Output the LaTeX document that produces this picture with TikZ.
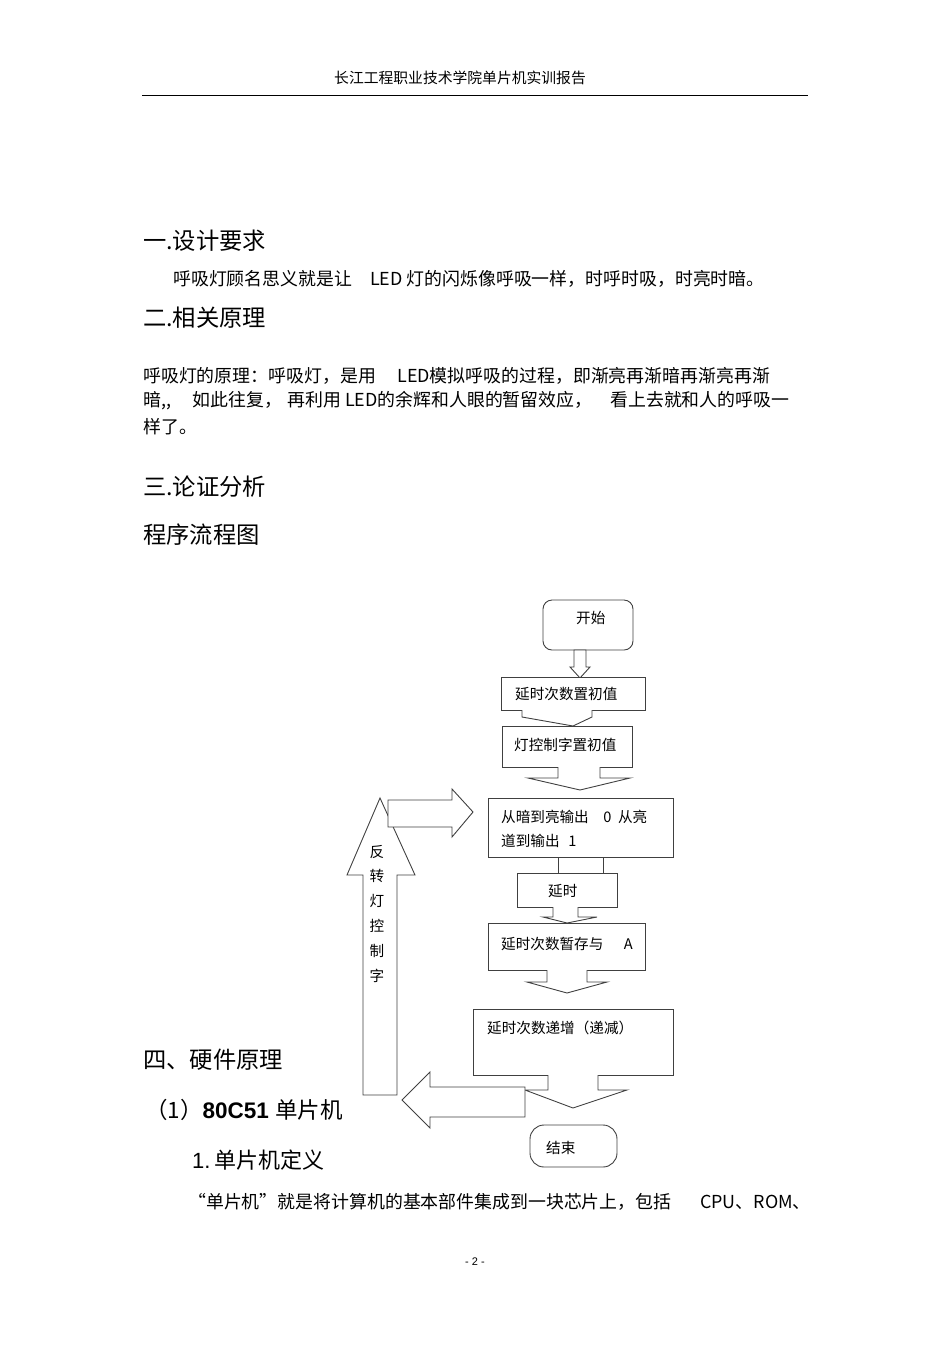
\documentclass[tikz,border=0pt]{standalone}
\usepackage{fontspec}
\setmainfont{Liberation Sans}
\newfontfamily\cjk{Noto Sans CJK SC}
\begin{document}
\begin{tikzpicture}[x=1pt,y=-1pt,
  txt/.style={anchor=west,inner sep=0pt,font=\cjk\fontsize{17.9}{20}\selectfont},
  head/.style={anchor=west,inner sep=0pt,font=\cjk\fontsize{23.3}{26}\selectfont},
  ft/.style={anchor=west,inner sep=0pt,font=\cjk\fontsize{14.6}{17}\selectfont},
  shp/.style={draw=black!75,line width=0.9pt,fill=white,line join=miter}]
\useasboundingbox (0,0) rectangle (950,1345);
% header
\node[inner sep=0pt,font=\cjk\fontsize{14.8}{17}\selectfont] (hdr) at (460,78) {长江工程职业技术学院单片机实训报告};
\draw[line width=0.6pt] (142,95) -- (808,95);
\node[head] (h1) at (143,241) {一.设计要求};
\node[txt] (t1) at (173,279) {呼吸灯顾名思义就是让\hspace{1em}LED 灯的闪烁像呼吸一样，时呼时吸，时亮时暗。};
\node[head] (h2) at (143,318) {二.相关原理};
\node[txt] (p1) at (143,376) {呼吸灯的原理：呼吸灯，是用\hspace{1.2em}LED模拟呼吸的过程，即渐亮再渐暗再渐亮再渐};
\node[txt] (p2) at (143,401) {暗,,\hspace{1.2em}如此往复，\hspace{0.3em}再利用 LED的余辉和人眼的暂留效应，\hspace{1em}看上去就和人的呼吸一};
\node[txt] (p3) at (143,427) {样了。};
\node[head] (h3) at (143,487) {三.论证分析};
\node[head] (h3b) at (143,535) {程序流程图};
\node[head] (h4) at (143,1060) {四、硬件原理};
\node[anchor=west,inner sep=0pt,font=\fontsize{22.5}{26}\selectfont] (h5) at (145,1110) {\cjk（1）\normalfont\bfseries 80C51 \cjk\mdseries 单片机};
\node[anchor=west,inner sep=0pt,font=\fontsize{22}{26}\selectfont] (h6) at (192,1160) {1.\,\cjk 单片机定义};
\node[txt] (t2) at (188,1202) {“单片机”就是将计算机的基本部件集成到一块芯片上，包括\hspace{1.6em}CPU、ROM、};
\node[inner sep=0pt,font=\fontsize{11}{12}\selectfont] (pg) at (475,1262) {- 2 -};

% flowchart
\draw[shp,rounded corners=9pt] (543,600) rectangle (633,650);
\node[ft] (start) at (576,618) {开始};
\draw[shp] (574,650) -- (586,650) -- (586,667) -- (590,667) -- (580,678) -- (570,667) -- (574,667) -- cycle;
\draw[shp] (501,677) rectangle (645,710);
\node[ft] (b1) at (515,694) {延时次数置初值};
\draw[shp] (522,710) -- (522,717) -- (573,726) -- (592,717) -- (592,710);
\draw[shp] (502,726) rectangle (632,767);
\node[ft] (b2) at (514,745) {灯控制字置初值};
\draw[shp] (558,767) -- (558,778) -- (528,778) -- (580,790) -- (630,778) -- (600,778) -- (600,767);
% left-up arrow
\draw[shp] (363,1095) -- (363,875) -- (347,875) -- (380,798) -- (415,875) -- (397,875) -- (397,1095) -- cycle;
\foreach \c/\y in {反/852,转/876,灯/901,控/926,制/951,字/976}
  \node[inner sep=0pt,font=\cjk\fontsize{14.6}{17}\selectfont] at (377,\y) {\c};
% right arrow
\draw[shp] (388,827) -- (388,800) -- (452,800) -- (452,789) -- (473,812) -- (452,837) -- (452,827) -- cycle;
\draw[shp] (488,798) rectangle (673,857);
\node[ft] (b3a) at (501,817) {从暗到亮输出\hspace{1em}0 \ 从亮};
\node[ft] (b3b) at (501,841) {道到输出\hspace{0.6em}1};
\draw[shp] (558,857) -- (558,876); \draw[shp] (603,857) -- (603,876);
\draw[shp] (517,873) -- (617,873) -- (617,907) -- (517,907) -- cycle;
\node[ft] (b4) at (548,891) {延时};
\draw[shp] (553,907) -- (553,917) -- (543,917) -- (567,923) -- (597,917) -- (578,917) -- (578,907);
\draw[shp] (488,923) rectangle (645,970);
\node[ft] (b5) at (501,944) {延时次数暂存与\hspace{1.4em}A};
\draw[shp] (547,970) -- (547,982) -- (527,982) -- (567,993) -- (607,982) -- (587,982) -- (587,970);
\draw[shp] (473,1009) rectangle (673,1075);
\node[ft] (b6) at (487,1028) {延时次数递增（递减）};
\draw[shp] (548,1075) -- (548,1090) -- (525,1090) -- (573,1108) -- (627,1090) -- (598,1090) -- (598,1075);
% left arrow
\draw[shp] (525,1087) -- (430,1087) -- (430,1072) -- (402,1100) -- (430,1128) -- (430,1117) -- (525,1117) -- cycle;
\draw[shp,rounded corners=14pt] (530,1125) rectangle (617,1167);
\node[ft] (end) at (546,1148) {结束};
\end{tikzpicture}
\end{document}
